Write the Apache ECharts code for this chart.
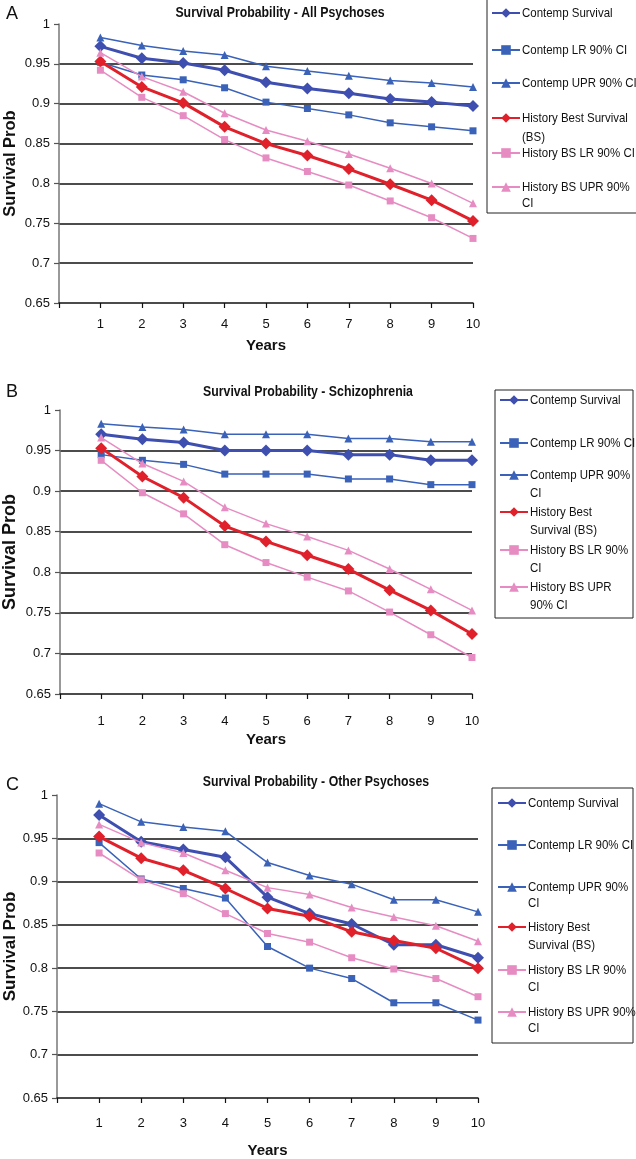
<!DOCTYPE html>
<html><head><meta charset="utf-8">
<script src="https://cdn.jsdelivr.net/npm/echarts@6/dist/echarts.min.js"></script>
<style>html,body{margin:0;padding:0;background:#fff}#c{width:636px;height:1159px}</style>
</head><body><div id="c"></div>
<script>
// ---------- DATA ----------
const years = [1, 2, 3, 4, 5, 6, 7, 8, 9, 10];
const seriesNames = ['Contemp Survival', 'Contemp LR 90% CI', 'Contemp UPR 90% CI',
  'History Best Survival (BS)', 'History BS LR 90% CI', 'History BS UPR 90% CI'];
const panelTitles = ['Survival Probability - All Psychoses', 'Survival Probability - Schizophrenia', 'Survival Probability - Other Psychoses'];
const panelLetters = ['A', 'B', 'C'];
const xAxisName = 'Years';
const yAxisName = 'Survival Prob';

// A: All psychoses
const allContemp    = [0.972, 0.957, 0.951, 0.942, 0.927, 0.919, 0.913, 0.906, 0.902, 0.897];
const allContempLR  = [0.952, 0.936, 0.930, 0.920, 0.902, 0.894, 0.886, 0.876, 0.871, 0.866];
const allContempUPR = [0.983, 0.973, 0.966, 0.961, 0.947, 0.941, 0.935, 0.929, 0.926, 0.921];
const allHistBS     = [0.953, 0.921, 0.901, 0.871, 0.850, 0.835, 0.818, 0.799, 0.779, 0.753];
const allHistLR     = [0.942, 0.908, 0.885, 0.855, 0.832, 0.815, 0.798, 0.778, 0.757, 0.731];
const allHistUPR    = [0.964, 0.934, 0.915, 0.888, 0.867, 0.853, 0.837, 0.819, 0.800, 0.775];
// B: Schizophrenia
const schContemp    = [0.970, 0.964, 0.960, 0.950, 0.950, 0.950, 0.945, 0.945, 0.938, 0.938];
const schContempLR  = [0.945, 0.938, 0.933, 0.921, 0.921, 0.921, 0.915, 0.915, 0.908, 0.908];
const schContempUPR = [0.983, 0.979, 0.976, 0.970, 0.970, 0.970, 0.965, 0.965, 0.961, 0.961];
const schHistBS     = [0.953, 0.918, 0.892, 0.857, 0.838, 0.821, 0.804, 0.778, 0.753, 0.724];
const schHistLR     = [0.938, 0.898, 0.872, 0.834, 0.812, 0.794, 0.777, 0.751, 0.723, 0.695];
const schHistUPR    = [0.966, 0.934, 0.912, 0.880, 0.860, 0.844, 0.827, 0.804, 0.779, 0.753];
// C: Other psychoses
const othContemp    = [0.977, 0.946, 0.937, 0.928, 0.882, 0.863, 0.851, 0.827, 0.827, 0.812];
const othContempLR  = [0.945, 0.903, 0.892, 0.881, 0.825, 0.800, 0.788, 0.760, 0.760, 0.740];
const othContempUPR = [0.990, 0.969, 0.963, 0.958, 0.922, 0.907, 0.897, 0.879, 0.879, 0.865];
const othHistBS     = [0.952, 0.927, 0.913, 0.892, 0.869, 0.860, 0.842, 0.832, 0.823, 0.800];
const othHistLR     = [0.933, 0.902, 0.886, 0.863, 0.840, 0.830, 0.812, 0.799, 0.788, 0.767];
const othHistUPR    = [0.966, 0.945, 0.933, 0.913, 0.893, 0.885, 0.870, 0.859, 0.849, 0.831];

// legend line-wrapping per panel (text as in the picture)
const legendLinesA = [['Contemp Survival'], ['Contemp LR 90% CI'], ['Contemp UPR 90% CI'], ['History Best Survival', '(BS)'], ['History BS LR 90% CI'], ['History BS UPR 90%', 'CI']];
const legendLinesB = [['Contemp Survival'], ['Contemp LR 90% CI'], ['Contemp UPR 90%', 'CI'], ['History Best', 'Survival (BS)'], ['History BS LR 90%', 'CI'], ['History BS UPR', '90% CI']];
const legendLinesC = [['Contemp Survival'], ['Contemp LR 90% CI'], ['Contemp UPR 90%', 'CI'], ['History Best', 'Survival (BS)'], ['History BS LR 90%', 'CI'], ['History BS UPR 90%', 'CI']];

// ---------- LAYOUT / STYLE ----------
const panelData = [
  [allContemp, allContempLR, allContempUPR, allHistBS, allHistLR, allHistUPR],
  [schContemp, schContempLR, schContempUPR, schHistBS, schHistLR, schHistUPR],
  [othContemp, othContempLR, othContempUPR, othHistBS, othHistLR, othHistUPR]
];
const legendLines = [legendLinesA, legendLinesB, legendLinesC];
const grids = [
  {left: 59, top: 24, width: 414, height: 279},
  {left: 60, top: 410, width: 412, height: 284},
  {left: 57, top: 795, width: 421, height: 303}
];
const layoutP = [
  {titleX: 280, titleY: 13, letterY: 14, yNameGap: 40, yNameSize: 16.5, labelMargin: 15, xNameGap: 35,
   box: [487, -1, 160, 214], textX: 522, rows: [[13], [50], [83], [118, 137], [153], [187, 203]]},
  {titleX: 308, titleY: 392, letterY: 392, yNameGap: 41, yNameSize: 18, labelMargin: 21, xNameGap: 38,
   box: [495, 390, 138, 228], textX: 530, rows: [[400], [443], [475, 493], [512, 530], [550, 568], [587, 605]]},
  {titleX: 316, titleY: 782, letterY: 785, yNameGap: 38, yNameSize: 17, labelMargin: 19, xNameGap: 45,
   box: [492, 788, 141, 255], textX: 528, rows: [[803], [845], [887, 903], [927, 945], [970, 987], [1012, 1028]]}
];
const sStyles = [
  {color: '#3F4FB0', width: 3, symbol: 'diamond', size: 12},
  {color: '#3A62B8', width: 1.5, symbol: 'rect', size: 7},
  {color: '#3A62B8', width: 1.5, symbol: 'triangle', size: 8},
  {color: '#E0202A', width: 3, symbol: 'diamond', size: 12},
  {color: '#E68CC2', width: 1.5, symbol: 'rect', size: 7},
  {color: '#E68CC2', width: 1.5, symbol: 'triangle', size: 8}
];
const SANS = '"Liberation Sans", Arial, sans-serif';

const option = {
  backgroundColor: '#fff',
  animation: false,
  grid: grids.map(g => Object.assign({containLabel: false, outerBoundsMode: 'none'}, g)),
  xAxis: grids.map((g, i) => ({
    type: 'value', gridIndex: i, min: 0, max: 10, interval: 1,
    name: xAxisName, nameLocation: 'middle', nameGap: layoutP[i].xNameGap, nameMoveOverlap: false,
    nameTextStyle: {fontFamily: SANS, fontWeight: 'bold', fontSize: 15, color: '#111'},
    axisLine: {show: true, onZero: false, lineStyle: {color: '#111', width: 1.5}},
    axisTick: {show: true, length: 5, inside: false, lineStyle: {color: '#111', width: 1.2}},
    axisLabel: {margin: layoutP[i].labelMargin, fontFamily: SANS, fontSize: 13, color: '#111',
      formatter: v => (v === 0 ? '' : String(v))},
    splitLine: {show: false}
  })),
  yAxis: grids.map((g, i) => ({
    type: 'value', gridIndex: i, min: 0.65, max: 1, interval: 0.05,
    name: yAxisName, nameLocation: 'middle', nameRotate: 90, nameGap: layoutP[i].yNameGap, nameMoveOverlap: false,
    nameTextStyle: {fontFamily: SANS, fontWeight: 'bold', fontSize: layoutP[i].yNameSize, color: '#111'},
    axisLine: {show: true, lineStyle: {color: '#777', width: 1.5}},
    axisTick: {show: true, length: 5, lineStyle: {color: '#555', width: 1.2}},
    axisLabel: {margin: 9, fontFamily: SANS, fontSize: 13, color: '#111'},
    splitLine: {show: true, showMinLine: false, showMaxLine: false, lineStyle: {color: '#111', width: 1.6}}
  })),
  legend: [],
  series: [],
  graphic: []
};

function narrowText(x, y, text, size, bold, align, scale) {
  return {type: 'text', x: x, y: y, z: 10, silent: true, scaleX: scale,
    style: {text: text, font: (bold ? 'bold ' : '') + size + 'px ' + SANS, fill: '#111',
      align: align, verticalAlign: 'middle'}};
}

panelData.forEach((arrs, p) => {
  arrs.forEach((vals, k) => {
    const st = sStyles[k];
    option.series.push({
      type: 'line', name: seriesNames[k], xAxisIndex: p, yAxisIndex: p,
      data: years.map((y, j) => [y, vals[j]]),
      symbol: st.symbol, symbolSize: st.size, showSymbol: true,
      lineStyle: {color: st.color, width: st.width},
      itemStyle: {color: st.color, borderWidth: 0},
      emphasis: {disabled: true}, z: 2 + k
    });
  });
  const L = layoutP[p];
  // legend frame
  option.graphic.push({type: 'rect', shape: {x: L.box[0], y: L.box[1], width: L.box[2], height: L.box[3]},
    style: {fill: '#fff', stroke: '#222', lineWidth: 1}, z: 0, silent: true});
  legendLines[p].forEach((lines, k) => {
    const rowY = L.rows[k];
    // legend symbol (line + marker) from the series itself
    option.legend.push({
      data: [seriesNames[k]], formatter: () => '', selectedMode: false,
      orient: 'vertical', left: L.textX - 31, top: rowY[0] - 6, padding: 0,
      itemWidth: 28, itemHeight: 12, itemGap: 0,
      textStyle: {fontSize: 1}, z: 10
    });
    // legend label lines (narrow type as in the picture)
    lines.forEach((ln, m) => option.graphic.push(narrowText(L.textX, rowY[m], ln, 13.5, false, 'left', 0.85)));
  });
  option.graphic.push(narrowText(L.titleX, L.titleY, panelTitles[p], 15, true, 'center', 0.82));
  option.graphic.push({type: 'text', x: 6, y: L.letterY, z: 10, silent: true,
    style: {text: panelLetters[p], font: '18px ' + SANS, fill: '#111', align: 'left', verticalAlign: 'middle'}});
});

const chart = echarts.init(document.getElementById('c'), null, {renderer: 'canvas', width: 636, height: 1159});
chart.setOption(option);
</script>
</body></html>
